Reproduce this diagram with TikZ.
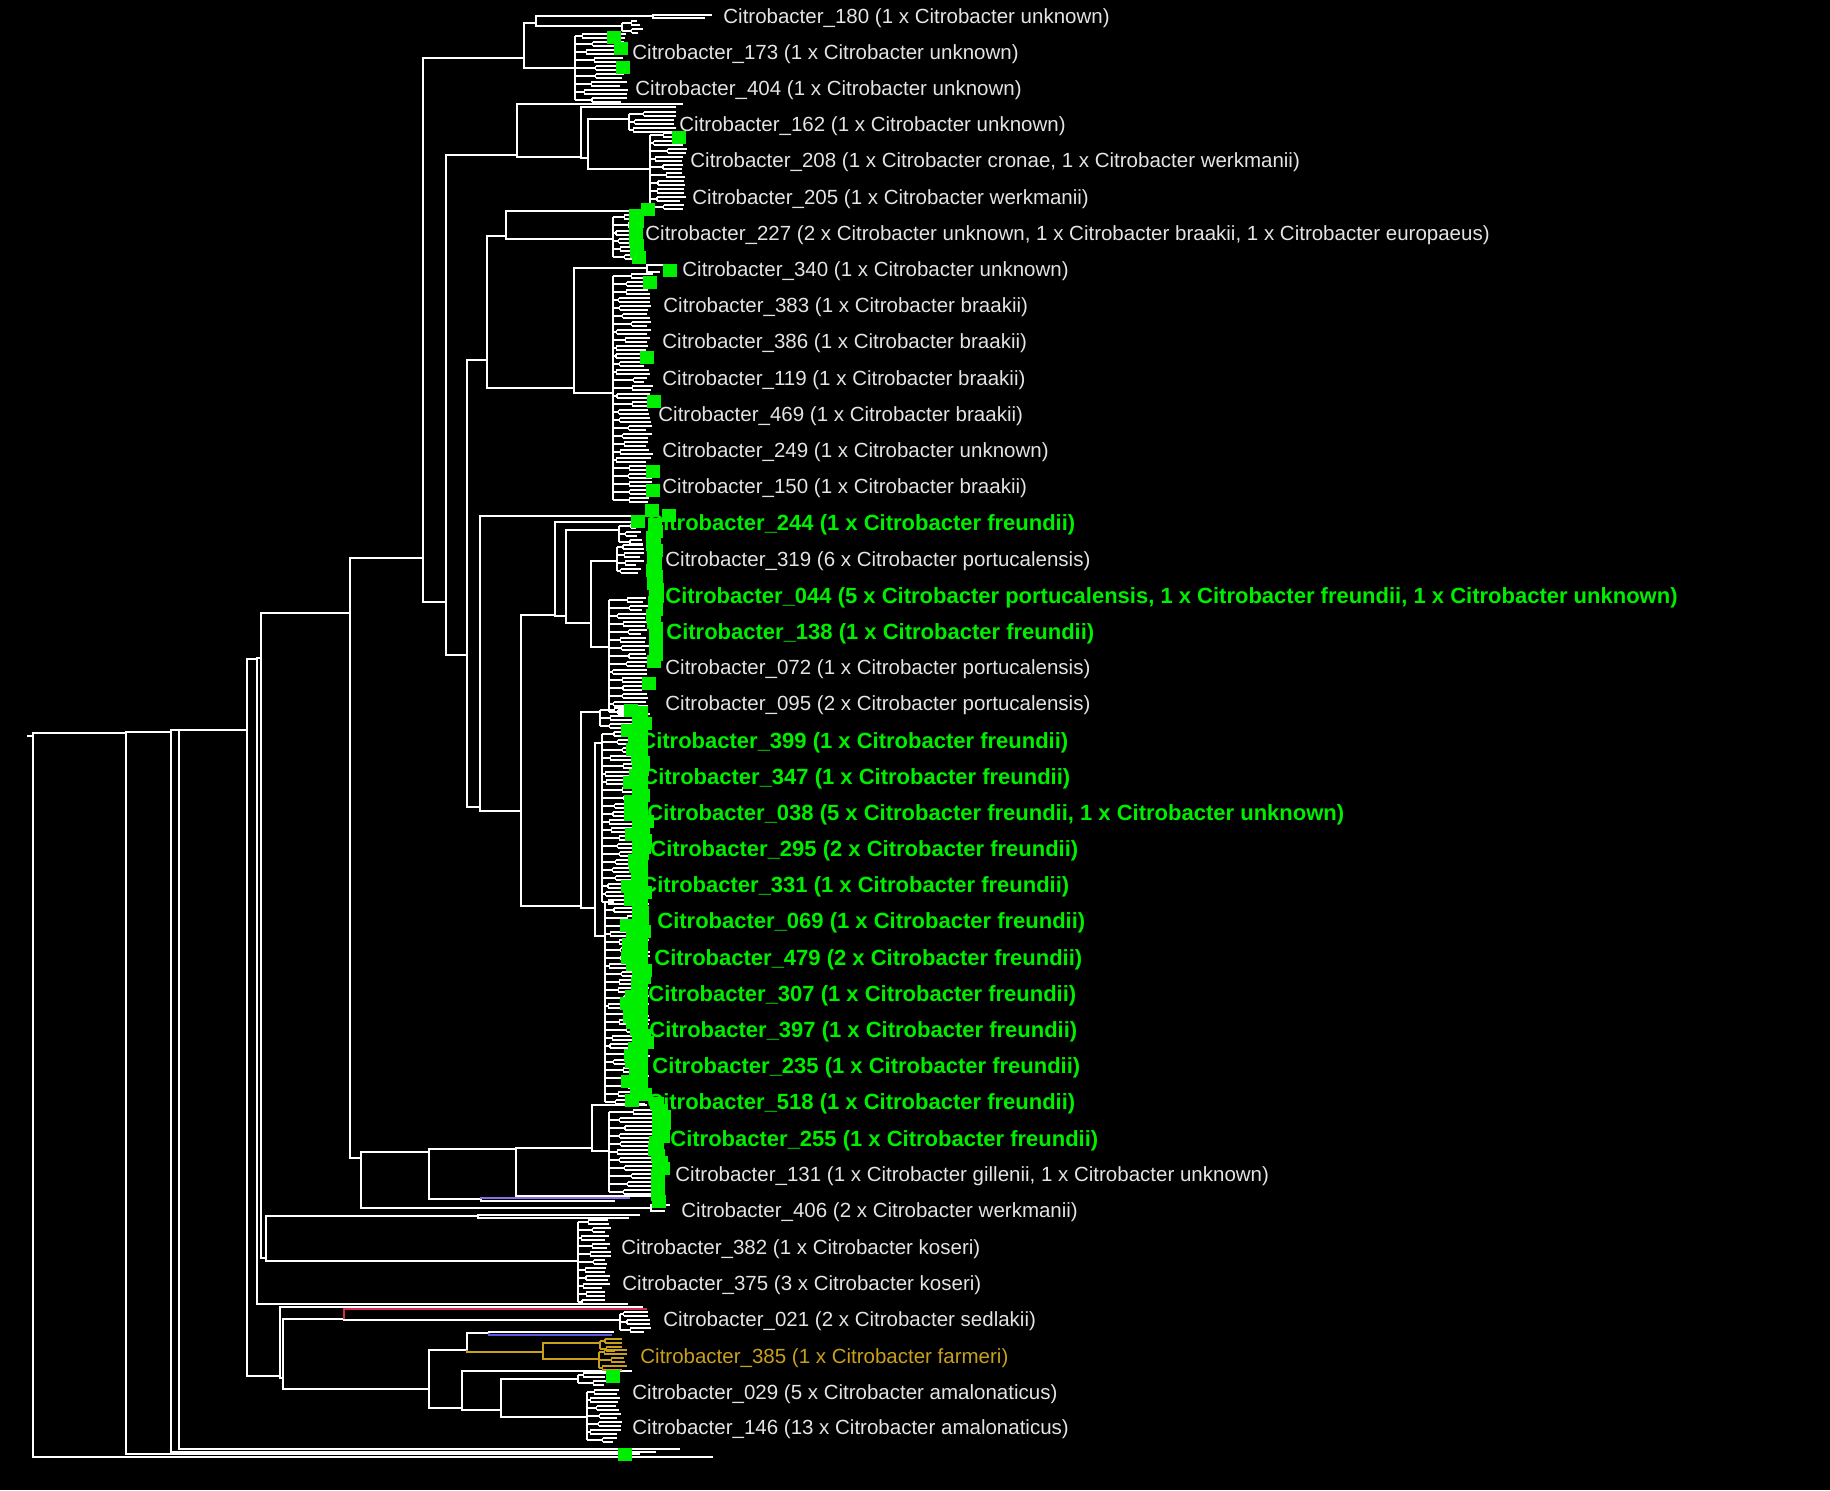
\documentclass[tikz,border=0pt]{standalone}
\usepackage{fontspec}
\setmainfont{Liberation Sans}

\definecolor{labgray}{RGB}{228,228,228}
\definecolor{hlgreen}{RGB}{0,238,0}
\definecolor{farmgold}{RGB}{200,160,28}
\definecolor{sedred}{RGB}{215,40,80}
\definecolor{werkpurple}{RGB}{140,110,235}
\definecolor{farmblue}{RGB}{90,90,225}

% dense comb of leaves: style, x, top, bottom, leaf end
\newcommand\tuft[5]{%
  \pgfmathtruncatemacro\tfn{(#4-#3)/8}%
  \pgfmathsetmacro\tflast{#3+8*\tfn+2}%
  \draw[#1] (#2,#3+2) -- (#2,\tflast);
  \foreach \tfk in {0,...,\tfn}{%
    \pgfmathsetmacro\tfya{#3+8*\tfk}%
    \pgfmathsetmacro\tfyb{\tfya+4}%
    \pgfmathsetmacro\tfym{\tfya+2}%
    \pgfmathsetmacro\tfxs{#2+3+rnd*0.45*(#5-#2)}%
    \pgfmathsetmacro\tfxe{#5-rnd*6}%
    \pgfmathsetmacro\tfxf{#5-rnd*9}%
    \draw[#1] (#2,\tfym) -- (\tfxs,\tfym) (\tfxs,\tfya) -- (\tfxs,\tfyb)
      (\tfxs,\tfya) -- (\tfxe,\tfya) (\tfxs,\tfyb) -- (\tfxf,\tfyb);
  }%
}

\begin{document}
\begin{tikzpicture}[x=0.5pt,y=-0.5pt,
  branch/.style={white,line width=0.6pt},
  goldbranch/.style={branch,draw=farmgold},
  redbranch/.style={branch,draw=sedred},
  werkbranch/.style={branch,draw=werkpurple},
  bluebranch/.style={branch,draw=farmblue},
  lab/.style={anchor=base west,inner sep=0pt,text=labgray,font=\fontsize{10.25}{12}\selectfont},
  hilab/.style={anchor=base west,inner sep=0pt,text=hlgreen,font=\fontsize{11}{13}\selectfont\bfseries},
  goldlab/.style={lab,text=farmgold},
  hitbox/.style={fill=hlgreen}]
\pgfmathsetseed{11}
\fill[black] (0,0) rectangle (1830,1490);

% internal nodes
\coordinate (stub) at (27,736);
\coordinate (root) at (33,736);
\coordinate (nA) at (126,733);
\coordinate (nB) at (171,732);
\coordinate (nC) at (179,730);
\coordinate (nD) at (247,730);
\coordinate (nE) at (257,659);
\coordinate (nF) at (261,658);
\coordinate (n350) at (350,613);
\coordinate (n423) at (423,558);
\coordinate (n524) at (524,58);
\coordinate (n536) at (536,23);
\coordinate (n576) at (575,68);
\coordinate (n653) at (653,16);
\coordinate (n446) at (446,602);
\coordinate (n517) at (517,155);
\coordinate (n581a) at (581,157);
\coordinate (n588) at (588,158);
\coordinate (n467) at (467,655);
\coordinate (n487) at (487,360);
\coordinate (n506) at (506,236);
\coordinate (n574) at (574,388);
\coordinate (n647) at (647,268);
\coordinate (n480) at (480,807);
\coordinate (n521) at (521,811);
\coordinate (n555) at (555,615);
\coordinate (n566) at (566,616);
\coordinate (n591) at (591,623);
\coordinate (n581) at (581,906);
\coordinate (n595) at (595,908);
\coordinate (n361) at (361,1158);
\coordinate (n429) at (429,1152);
\coordinate (n481) at (481,1199);
\coordinate (n516) at (516,1149);
\coordinate (n592) at (592,1148);
\coordinate (n651) at (651,1208);
\coordinate (n266) at (266,1258);
\coordinate (n478) at (478,1216);
\coordinate (n280) at (280,1376);
\coordinate (n283) at (283,1378);
\coordinate (n344) at (344,1319);
\coordinate (n429b) at (429,1389);
\coordinate (n467b) at (467,1350);
\coordinate (n489) at (489,1333);
\coordinate (n543) at (543,1352);
\coordinate (n462) at (462,1408);
\coordinate (n501) at (501,1410);

% tuft roots
\coordinate (tA) at (622,26);
\coordinate (t162) at (629,119);
\coordinate (t208) at (650,169);
\coordinate (t227) at (613,239);
\coordinate (tbr) at (613,393);
\coordinate (t566) at (619,530);
\coordinate (t617) at (617,561);
\coordinate (t609) at (609,647);
\coordinate (t581) at (600,712);
\coordinate (t595a) at (602,743);
\coordinate (t595b) at (605,936);
\coordinate (t609b) at (609,1151);
\coordinate (tko) at (578,1261);
\coordinate (t021) at (620,1320);
\coordinate (tg1) at (600,1343);
\coordinate (tg2) at (599,1359);
\coordinate (t029) at (578,1379);
\coordinate (t146) at (587,1417);

% single leaves
\coordinate (lR) at (713,1457);
\coordinate (lA) at (640,1454);
\coordinate (lB) at (656,1452);
\coordinate (lC) at (680,1449);
\coordinate (lE) at (628,1304);
\coordinate (l180a) at (712,15);
\coordinate (l180b) at (705,18);
\coordinate (l517) at (683,104);
\coordinate (l581) at (676,107);
\coordinate (l227) at (645,211);
\coordinate (l340a) at (663,265);
\coordinate (l340b) at (660,272);
\coordinate (l244) at (640,516);
\coordinate (l555) at (640,522);
\coordinate (l406a) at (670,1205);
\coordinate (l406b) at (665,1211);
\coordinate (lpur) at (630,1198);
\coordinate (l481) at (615,1201);
\coordinate (l516) at (659,1196);
\coordinate (l592) at (647,1105);
\coordinate (l478a) at (640,1215);
\coordinate (l478b) at (629,1218);
\coordinate (l280) at (643,1307);
\coordinate (lred) at (647,1309);
\coordinate (l489) at (614,1332);
\coordinate (lblue) at (612,1335);
\coordinate (l462) at (632,1371);

\draw[branch] (stub) -- (root);
\foreach \p/\c in {root/nA, root/lR, nA/nB, nA/lA, nB/nC, nB/lB, nC/nD, nC/lC,
    nD/nE, nD/n280, nE/nF, nE/lE, nF/n350, nF/n266, n350/n423, n350/n361,
    n423/n524, n423/n446, n524/n536, n524/n576, n536/n653, n536/tA,
    n653/l180a, n653/l180b, n446/n517, n446/n467, n517/l517, n517/n581a,
    n581a/l581, n581a/n588, n588/t162, n588/t208, n467/n487, n467/n480,
    n487/n506, n487/n574, n506/l227, n506/t227, n574/n647, n574/tbr,
    n647/l340a, n647/l340b, n480/l244, n480/n521, n521/n555, n521/n581,
    n555/l555, n555/n566, n566/t566, n566/n591, n591/t617, n591/t609,
    n581/t581, n581/n595, n595/t595a, n595/t595b, n361/n429, n361/n651,
    n651/l406a, n651/l406b, n429/n516, n429/n481, n481/l481, n516/n592,
    n516/l516, n592/l592, n592/t609b, n266/n478, n266/tko, n478/l478a,
    n478/l478b, n280/l280, n280/n283, n283/n344, n283/n429b, n344/t021,
    n429b/n467b, n429b/n462, n467b/n489, n489/l489, n462/l462, n462/n501,
    n501/t029, n501/t146}
  \draw[branch] (\p) |- (\c);
\draw[redbranch] (n344) |- (lred);
\draw[werkbranch] (n481) |- (lpur);
\draw[bluebranch] (n489) |- (lblue);
\draw[goldbranch] (n467b) |- (n543);
\draw[goldbranch] (n543) |- (tg1);
\draw[goldbranch] (n543) |- (tg2);

\tuft{branch}{622}{21}{32}{643}
\tuft{branch}{575}{34}{101}{628}
\tuft{branch}{629}{112}{130}{677}
\tuft{branch}{650}{133}{207}{687}
\tuft{branch}{613}{215}{259}{643}
\tuft{branch}{613}{274}{505}{653}
\tuft{branch}{619}{524}{540}{645}
\tuft{branch}{617}{545}{575}{645}
\tuft{branch}{609}{598}{712}{650}
\tuft{branch}{600}{708}{730}{640}
\tuft{branch}{602}{732}{900}{645}
\tuft{branch}{605}{900}{1100}{650}
\tuft{branch}{609}{1110}{1195}{660}
\tuft{branch}{578}{1220}{1302}{611}
\tuft{branch}{620}{1312}{1329}{651}
\tuft{goldbranch}{600}{1339}{1348}{622}
\tuft{goldbranch}{599}{1350}{1367}{630}
\tuft{branch}{578}{1373}{1387}{611}
\tuft{branch}{587}{1390}{1445}{622}

% highlighted tips
\foreach \sx/\sy in {607/31, 614/42, 616/61, 672/131, 641/203, 663/264, 643/276,
    640/351, 647/395, 646/465, 646/484, 645/504, 662/509, 631/515, 642/677,
    606/1370, 618/1448}
  \fill[hitbox] (\sx,\sy) rectangle ++(14,13);
\fill[hitbox] (630,212) rectangle (643,256);
\foreach \k in {0,...,7}
  \fill[hitbox] (627+rnd*5,209+6*\k) rectangle ++(14,13);
\fill[hitbox] (649,520) rectangle (661,664);
\foreach \k in {0,...,21}
  \fill[hitbox] (646+rnd*4,518+6.5*\k) rectangle ++(14,13);
\fill[hitbox] (632,706) rectangle (648,1100);
\foreach \k in {0,...,60}
  \fill[hitbox] (620+rnd*20,704+6.5*\k) rectangle ++(14,13);
\fill[hitbox] (652,1100) rectangle (664,1198);
\foreach \k in {0,...,15}
  \fill[hitbox] (647+rnd*10,1097+6.5*\k) rectangle ++(14,13);

% tip labels
\node[lab] (c180) at (723,23) {Citrobacter\_180 (1 x Citrobacter unknown)};
\node[lab] (c173) at (632,59) {Citrobacter\_173 (1 x Citrobacter unknown)};
\node[lab] (c404) at (635,95) {Citrobacter\_404 (1 x Citrobacter unknown)};
\node[lab] (c162) at (679,131) {Citrobacter\_162 (1 x Citrobacter unknown)};
\node[lab] (c208) at (690,167) {Citrobacter\_208 (1 x Citrobacter cronae, 1 x Citrobacter werkmanii)};
\node[lab] (c205) at (692,204) {Citrobacter\_205 (1 x Citrobacter werkmanii)};
\node[lab] (c227) at (645,240) {Citrobacter\_227 (2 x Citrobacter unknown, 1 x Citrobacter braakii, 1 x Citrobacter europaeus)};
\node[lab] (c340) at (682,276) {Citrobacter\_340 (1 x Citrobacter unknown)};
\node[lab] (c383) at (663,312) {Citrobacter\_383 (1 x Citrobacter braakii)};
\node[lab] (c386) at (662,348) {Citrobacter\_386 (1 x Citrobacter braakii)};
\node[lab] (c119) at (662,385) {Citrobacter\_119 (1 x Citrobacter braakii)};
\node[lab] (c469) at (658,421) {Citrobacter\_469 (1 x Citrobacter braakii)};
\node[lab] (c249) at (662,457) {Citrobacter\_249 (1 x Citrobacter unknown)};
\node[lab] (c150) at (662,493) {Citrobacter\_150 (1 x Citrobacter braakii)};
\node[hilab] (c244) at (647,530) {Citrobacter\_244 (1 x Citrobacter freundii)};
\node[lab] (c319) at (665,566) {Citrobacter\_319 (6 x Citrobacter portucalensis)};
\node[hilab] (c044) at (665,603) {Citrobacter\_044 (5 x Citrobacter portucalensis, 1 x Citrobacter freundii, 1 x Citrobacter unknown)};
\node[hilab] (c138) at (666,639) {Citrobacter\_138 (1 x Citrobacter freundii)};
\node[lab] (c072) at (665,674) {Citrobacter\_072 (1 x Citrobacter portucalensis)};
\node[lab] (c095) at (665,710) {Citrobacter\_095 (2 x Citrobacter portucalensis)};
\node[hilab] (c399) at (640,748) {Citrobacter\_399 (1 x Citrobacter freundii)};
\node[hilab] (c347) at (642,784) {Citrobacter\_347 (1 x Citrobacter freundii)};
\node[hilab] (c038) at (647,820) {Citrobacter\_038 (5 x Citrobacter freundii, 1 x Citrobacter unknown)};
\node[hilab] (c295) at (650,856) {Citrobacter\_295 (2 x Citrobacter freundii)};
\node[hilab] (c331) at (641,892) {Citrobacter\_331 (1 x Citrobacter freundii)};
\node[hilab] (c069) at (657,928) {Citrobacter\_069 (1 x Citrobacter freundii)};
\node[hilab] (c479) at (654,965) {Citrobacter\_479 (2 x Citrobacter freundii)};
\node[hilab] (c307) at (648,1001) {Citrobacter\_307 (1 x Citrobacter freundii)};
\node[hilab] (c397) at (649,1037) {Citrobacter\_397 (1 x Citrobacter freundii)};
\node[hilab] (c235) at (652,1073) {Citrobacter\_235 (1 x Citrobacter freundii)};
\node[hilab] (c518) at (647,1109) {Citrobacter\_518 (1 x Citrobacter freundii)};
\node[hilab] (c255) at (670,1146) {Citrobacter\_255 (1 x Citrobacter freundii)};
\node[lab] (c131) at (675,1181) {Citrobacter\_131 (1 x Citrobacter gillenii, 1 x Citrobacter unknown)};
\node[lab] (c406) at (681,1217) {Citrobacter\_406 (2 x Citrobacter werkmanii)};
\node[lab] (c382) at (621,1254) {Citrobacter\_382 (1 x Citrobacter koseri)};
\node[lab] (c375) at (622,1290) {Citrobacter\_375 (3 x Citrobacter koseri)};
\node[lab] (c021) at (663,1326) {Citrobacter\_021 (2 x Citrobacter sedlakii)};
\node[goldlab] (c385) at (640,1363) {Citrobacter\_385 (1 x Citrobacter farmeri)};
\node[lab] (c029) at (632,1399) {Citrobacter\_029 (5 x Citrobacter amalonaticus)};
\node[lab] (c146) at (632,1434) {Citrobacter\_146 (13 x Citrobacter amalonaticus)};
\end{tikzpicture}
\end{document}
